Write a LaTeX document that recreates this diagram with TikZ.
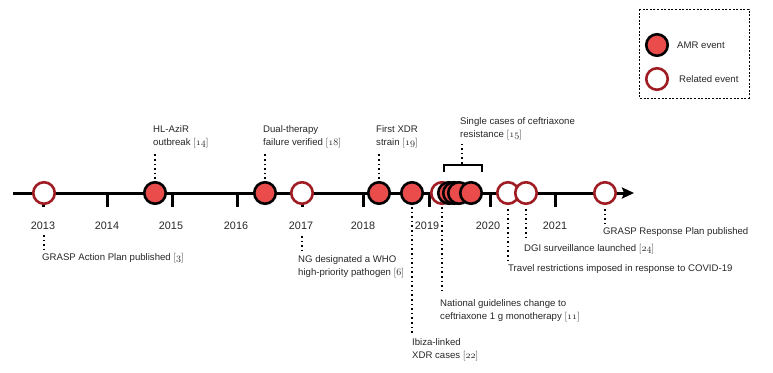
\documentclass[tikz,border=0pt]{standalone}
\usepackage{fontspec}
\usetikzlibrary{arrows.meta}
\newfontfamily\labfont{Liberation Sans}
\newcommand\osn[1]{{\usefont{OML}{cmm}{m}{it}#1}}
\newcommand\rf[1]{{\rmfamily[\osn{#1}]}}
\definecolor{amrred}{RGB}{234,76,76}
\definecolor{reldred}{RGB}{158,28,34}
\begin{document}
\begin{tikzpicture}[x=1pt,y=-1pt,
  amr/.style={circle, draw=black, fill=amrred, line width=2.6pt, minimum size=21.5pt, inner sep=0pt},
  rel/.style={circle, draw=reldred, fill=white, line width=2.6pt, minimum size=21.5pt, inner sep=0pt},
  tickln/.style={line width=3pt},
  lbl/.style={font=\labfont\fontsize{9.6}{13.5}\selectfont, align=left, inner sep=0pt, anchor=north west, text=black!85},
  yr/.style={font=\labfont\fontsize{10.8}{12}\selectfont, inner sep=0pt, text=black!85},
  dotc/.style={line width=1.6pt, dash pattern=on 1.6pt off 3pt}]
\useasboundingbox (0,0) rectangle (773,372);

% legend
\draw[line width=0.8pt, dash pattern=on 2pt off 1.6pt] (639,9) rectangle (749,98);
\node[amr] (lamr) at (657,45) {};
\node[rel] (lrel) at (657,79) {};
\node[lbl, anchor=west] (lamrt) at (677,45) {AMR event};
\node[lbl, anchor=west] (lrelt) at (679,79) {Related event};

% main axis
\coordinate (axs) at (13,193);
\coordinate (axe) at (634,193);
\draw[line width=3pt, -{Stealth[length=12pt,width=11pt,inset=2pt]}] (axs) -- (axe);

% ticks and years
\foreach \x in {43,107,172,237,302,363,429,490,555}{
  \draw[tickln] (\x,193) -- (\x,207);
}
\node[yr] (y13) at (43,226) {2013};
\node[yr] (y14) at (107,226) {2014};
\node[yr] (y15) at (171,226) {2015};
\node[yr] (y16) at (236,226) {2016};
\node[yr] (y17) at (301,226) {2017};
\node[yr] (y18) at (363,226) {2018};
\node[yr] (y19) at (427,226) {2019};
\node[yr] (y20) at (488,226) {2020};
\node[yr] (y21) at (555,226) {2021};

% labels
\node[lbl] (tha) at (153,125) {HL-AziR\\outbreak \rf{14}};
\node[lbl] (tdu) at (263,125) {Dual-therapy\\failure verified \rf{18}};
\node[lbl] (txd) at (376,125) {First XDR\\strain \rf{19}};
\node[lbl] (tsc) at (460,117) {Single cases of ceftriaxone\\resistance \rf{15}};
\node[lbl] (tga) at (42,253) {GRASP Action Plan published \rf{3}};
\node[lbl] (tng) at (298,255) {NG designated a WHO\\high-priority pathogen \rf{6}};
\node[lbl] (tna) at (440,299) {National guidelines change to\\ceftriaxone 1 g monotherapy \rf{11}};
\node[lbl] (tib) at (412,338) {Ibiza-linked\\XDR cases \rf{22}};
\node[lbl] (ttr) at (508,264) {Travel restrictions imposed in response to COVID-19};
\node[lbl] (tdg) at (524,244) {DGI surveillance launched \rf{24}};
\node[lbl] (tgr) at (603,227) {GRASP Response Plan published};

% events
\node[rel] (e13) at (44,193) {};
\node[amr] (eha) at (155,193) {};
\node[amr] (edu) at (265,193) {};
\node[rel] (eng) at (302,193) {};
\node[amr] (exd) at (379,193) {};
\node[amr] (eib) at (412,193) {};
\node[rel] (ena) at (442,193) {};
\node[amr] (es1) at (449,193) {};
\node[amr] (es2) at (454,193) {};
\node[amr] (es3) at (459,193) {};
\node[amr] (es4) at (471,193) {};
\node[rel] (etr) at (508,193) {};
\node[rel] (edg) at (526,193) {};
\node[rel] (egr) at (605,193) {};

% bracket
\coordinate (bl) at (444,172);
\coordinate (br) at (482,172);
\coordinate (bm) at (462,165);
\draw[line width=1.6pt] (bl) -- (bl |- bm) -- (br |- bm) -- (br);

% dotted connectors
\draw[dotc, shorten <=2pt, shorten >=4pt] (eha.north) -- (eha.north |- tha.south);
\draw[dotc, shorten <=2pt, shorten >=4pt] (edu.north) -- (edu.north |- tdu.south);
\draw[dotc, shorten <=2pt, shorten >=4pt] (exd.north) -- (exd.north |- txd.south);
\draw[dotc, shorten <=1.5pt, shorten >=3pt] (bm) -- (bm |- tsc.south);
\draw[dotc, shorten <=5pt, shorten >=4pt] (y13.south -| e13) -- (e13 |- tga.north);
\draw[dotc, shorten <=6pt, shorten >=4pt] (y17.south -| eng) -- (eng |- tng.north);
\draw[dotc, shorten <=2pt, shorten >=5pt] (eib.south) -- (eib.south |- tib.north);
\draw[dotc, shorten <=2pt, shorten >=5pt] (ena.south) -- (ena.south |- tna.north);
\draw[dotc, shorten <=4pt, shorten >=2pt] (etr.south) -- (etr.south |- ttr.north);
\draw[dotc, shorten <=4pt, shorten >=4pt] (edg.south) -- (edg.south |- tdg.north);
\draw[dotc, shorten <=4pt, shorten >=4pt] (egr.south) -- (egr.south |- tgr.north);
\end{tikzpicture}
\end{document}
